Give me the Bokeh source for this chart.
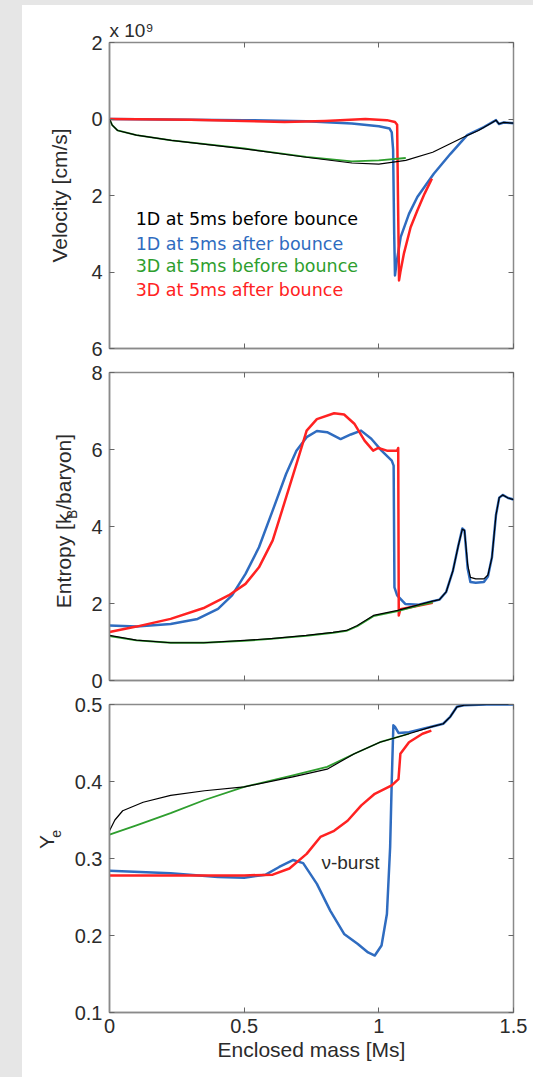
from bokeh.plotting import figure
from bokeh.layouts import column, row
from bokeh.models import (Range1d, FixedTicker, LinearAxis, Label, Title,
                          CustomJSTickFormatter, GlobalInlineStyleSheet)
from bokeh.embed import file_html
from bokeh.resources import INLINE

# ---------------- data (enclosed mass in Ms) ----------------
# Velocity [1e9 cm/s] (infall shown downward)
vel_1d_pre_m = [0, 0.01, 0.03, 0.1, 0.23, 0.5, 0.73, 0.9, 1.0, 1.1, 1.2, 1.316, 1.37, 1.415, 1.435, 1.446, 1.464, 1.5]
vel_1d_pre_v = [0, -0.16, -0.30, -0.42, -0.56, -0.78, -1.00, -1.15, -1.18, -1.08, -0.87, -0.47, -0.30, -0.12, -0.03, -0.13, -0.09, -0.11]

vel_1d_post_m = [0, 0.2, 0.5, 0.73, 0.9, 1.0, 1.04, 1.048, 1.053, 1.057, 1.06, 1.066, 1.081, 1.112, 1.143, 1.204, 1.266, 1.328, 1.39, 1.427, 1.435, 1.446, 1.464, 1.5]
vel_1d_post_v = [0, -0.01, -0.03, -0.06, -0.12, -0.19, -0.25, -0.35, -0.8, -3.0, -4.09, -3.75, -3.09, -2.48, -2.04, -1.43, -0.91, -0.42, -0.21, -0.06, -0.03, -0.13, -0.09, -0.11]

vel_3d_pre_m = [0, 0.01, 0.03, 0.1, 0.23, 0.5, 0.73, 0.9, 1.0, 1.1]
vel_3d_pre_v = [0, -0.16, -0.30, -0.42, -0.56, -0.77, -0.99, -1.11, -1.08, -1.02]

vel_3d_post_m = [0, 0.3, 0.5, 0.65, 0.8, 0.95, 1.03, 1.06, 1.068, 1.071, 1.075, 1.08, 1.093, 1.118, 1.143, 1.17, 1.197]
vel_3d_post_v = [0, -0.02, -0.05, -0.08, -0.05, 0.0, -0.03, -0.08, -0.15, -2.0, -4.22, -4.0, -3.52, -2.83, -2.39, -1.95, -1.56]

# Entropy [kB/baryon]
ent_1d_pre_m = [0, 0.1, 0.227, 0.35, 0.5, 0.6, 0.73, 0.83, 0.88, 0.92, 0.98, 1.07, 1.15, 1.2, 1.225, 1.25, 1.275, 1.295, 1.31, 1.318, 1.33, 1.34, 1.36, 1.39, 1.405, 1.42, 1.435, 1.447, 1.46, 1.48, 1.5]
ent_1d_pre_s = [1.17, 1.05, 0.98, 0.98, 1.04, 1.09, 1.17, 1.25, 1.30, 1.43, 1.69, 1.82, 1.97, 2.06, 2.10, 2.30, 2.85, 3.50, 3.93, 3.90, 3.00, 2.68, 2.64, 2.64, 2.74, 3.20, 4.30, 4.75, 4.82, 4.74, 4.70]

ent_1d_post_m = [0, 0.1, 0.227, 0.327, 0.403, 0.455, 0.505, 0.555, 0.606, 0.656, 0.694, 0.732, 0.770, 0.808, 0.858, 0.896, 0.934, 0.972, 1.01, 1.048, 1.055, 1.058, 1.068, 1.098, 1.148, 1.2, 1.225, 1.25, 1.275, 1.295, 1.31, 1.318, 1.33, 1.34, 1.36, 1.39, 1.405, 1.42, 1.435, 1.447, 1.46, 1.48, 1.5]
ent_1d_post_s = [1.43, 1.40, 1.47, 1.60, 1.86, 2.21, 2.77, 3.46, 4.42, 5.37, 5.97, 6.32, 6.48, 6.45, 6.27, 6.39, 6.49, 6.28, 5.97, 5.71, 5.58, 2.42, 2.21, 1.99, 1.97, 2.06, 2.10, 2.30, 2.85, 3.50, 3.95, 3.90, 2.90, 2.56, 2.54, 2.56, 2.70, 3.20, 4.30, 4.75, 4.82, 4.74, 4.70]

ent_3d_pre_m = [0, 0.1, 0.227, 0.35, 0.5, 0.6, 0.73, 0.83, 0.88, 0.92, 0.98, 1.07, 1.15, 1.2]
ent_3d_pre_s = [1.15, 1.04, 0.98, 0.98, 1.03, 1.08, 1.16, 1.24, 1.29, 1.41, 1.67, 1.80, 1.95, 2.03]

ent_3d_post_m = [0, 0.1, 0.227, 0.353, 0.442, 0.505, 0.555, 0.606, 0.656, 0.694, 0.732, 0.770, 0.834, 0.871, 0.909, 0.947, 0.979, 0.998, 1.03, 1.068, 1.072, 1.074, 1.08, 1.15, 1.2]
ent_3d_post_s = [1.26, 1.40, 1.60, 1.89, 2.21, 2.51, 2.94, 3.64, 4.76, 5.62, 6.49, 6.79, 6.94, 6.91, 6.67, 6.23, 5.97, 6.04, 5.97, 5.97, 6.04, 1.69, 1.85, 1.95, 2.02]

# Electron fraction Ye
ye_1d_pre_m = [0, 0.02, 0.049, 0.125, 0.227, 0.353, 0.5, 0.681, 0.808, 0.909, 1.004, 1.112, 1.195, 1.239, 1.265, 1.29, 1.316, 1.4, 1.5]
ye_1d_pre_y = [0.336, 0.350, 0.362, 0.373, 0.382, 0.388, 0.393, 0.406, 0.416, 0.436, 0.451, 0.462, 0.471, 0.475, 0.484, 0.497, 0.499, 0.5, 0.5]

ye_1d_post_m = [0, 0.227, 0.403, 0.5, 0.58, 0.63, 0.681, 0.719, 0.77, 0.82, 0.871, 0.922, 0.96, 0.985, 1.01, 1.03, 1.042, 1.048, 1.054, 1.06, 1.073, 1.112, 1.195, 1.239, 1.265, 1.29, 1.316, 1.4, 1.5]
ye_1d_post_y = [0.284, 0.281, 0.276, 0.275, 0.279, 0.289, 0.298, 0.294, 0.267, 0.232, 0.202, 0.189, 0.178, 0.174, 0.187, 0.228, 0.315, 0.401, 0.473, 0.471, 0.463, 0.464, 0.471, 0.475, 0.484, 0.497, 0.499, 0.5, 0.5]

ye_3d_pre_m = [0, 0.1, 0.227, 0.353, 0.5, 0.681, 0.808, 0.909, 1.004, 1.112]
ye_3d_pre_y = [0.331, 0.343, 0.359, 0.376, 0.393, 0.408, 0.419, 0.436, 0.451, 0.462]

ye_3d_post_m = [0, 0.227, 0.5, 0.606, 0.668, 0.732, 0.783, 0.834, 0.884, 0.935, 0.985, 1.048, 1.073, 1.08, 1.112, 1.162, 1.195]
ye_3d_post_y = [0.278, 0.278, 0.278, 0.279, 0.287, 0.306, 0.328, 0.336, 0.349, 0.369, 0.384, 0.395, 0.403, 0.436, 0.451, 0.462, 0.466]

series_names = ["1D at 5ms before bounce", "1D at 5ms after bounce",
                "3D at 5ms before bounce", "3D at 5ms after bounce"]
series_colors = ["#000000", "#2f6cc0", "#2e9e2e", "#ff2222"]
series_widths = [1.2, 2.5, 1.8, 2.5]

x_ticks = [0, 0.5, 1, 1.5]
vel_ticks = [-6, -4, -2, 0, 2]
ent_ticks = [0, 2, 4, 6, 8]
ye_ticks = [0.1, 0.2, 0.3, 0.4, 0.5]

TXT = "#2b2b2b"
FONT = "Liberation Sans"
BOX = "#8a8a8a"
ROT = 1.5707963


def make_fig(width, height, left, top, bottom, y_range, yticks, ycode, xlabels, ylabel=None):
    p = figure(width=width, height=height, x_range=Range1d(0, 1.5), y_range=y_range,
               output_backend="svg", toolbar_location=None,
               min_border_left=left, min_border_right=19,
               min_border_top=top, min_border_bottom=bottom,
               border_fill_color=None, background_fill_color="white",
               outline_line_color=BOX, outline_line_width=1.5)
    p.grid.visible = False
    for ax, ticks, code in ((p.below[0], x_ticks, "return String(tick);"),
                            (p.left[0], yticks, ycode)):
        ax.ticker = FixedTicker(ticks=ticks)
        ax.formatter = CustomJSTickFormatter(code=code)
        ax.axis_line_color = BOX
        ax.axis_line_width = 1.5
        ax.major_tick_in = 5
        ax.major_tick_out = 0
        ax.major_tick_line_color = "#666666"
        ax.minor_tick_line_color = None
        ax.major_label_text_font = FONT
        ax.major_label_text_font_size = "20px"
        ax.major_label_text_color = TXT
    p.left[0].major_label_standoff = 7
    p.below[0].major_label_standoff = 6
    if not xlabels:
        p.below[0].formatter = CustomJSTickFormatter(code="return '';")
        p.below[0].major_label_text_font_size = "0px"
        p.below[0].major_label_standoff = 0
    if ylabel:
        ax = p.left[0]
        ax.axis_label = ylabel
        ax.axis_label_text_font = FONT
        ax.axis_label_text_font_size = "21px"
        ax.axis_label_text_font_style = "normal"
        ax.axis_label_text_color = TXT
        ax.axis_label_standoff = 17
    # mirrored inner ticks on top and right
    for loc, ticks in (("above", x_ticks), ("right", yticks)):
        ax = LinearAxis(ticker=FixedTicker(ticks=ticks),
                        formatter=CustomJSTickFormatter(code="return '';"),
                        major_label_text_font_size="0px", major_label_standoff=0,
                        axis_line_color=None, major_tick_in=5, major_tick_out=0,
                        major_tick_line_color="#666666", minor_tick_line_color=None)
        p.add_layout(ax, loc)
    return p


def label_fig(width, height):
    q = figure(width=width, height=height, x_range=Range1d(0, width), y_range=Range1d(0, height),
               output_backend="svg", toolbar_location=None, min_border=0,
               border_fill_color=None, background_fill_color=None,
               outline_line_color=None)
    q.axis.visible = False
    q.grid.visible = False
    return q


def draw(p, ms, vs):
    for i in [1, 3, 2, 0]:
        p.line(ms[i], vs[i], line_color=series_colors[i], line_width=series_widths[i],
               line_join="round")


# ---------------- panel 1: velocity ----------------
p1 = make_fig(532, 360, 109, 42, 12, Range1d(-6, 2), vel_ticks,
              "return String(Math.abs(tick));", False, "Velocity [cm/s]")
draw(p1, [vel_1d_pre_m, vel_1d_post_m, vel_3d_pre_m, vel_3d_post_m],
         [vel_1d_pre_v, vel_1d_post_v, vel_3d_pre_v, vel_3d_post_v])
p1.add_layout(Title(text="x 10\u2079", align="left", text_font=FONT, text_font_size="19px",
                    text_font_style="normal", text_color=TXT, standoff=4), "above")
legend_y = [-2.627, -3.255, -3.856, -4.458]
for name, col, yy in zip(series_names, series_colors, legend_y):
    p1.add_layout(Label(x=0.097, y=yy, text=name, text_font="DejaVu Sans",
                        text_font_size="17.5px", text_color=col, text_baseline="middle"))

# ---------------- panel 2: entropy ----------------
l2 = label_fig(86, 332)
l2.add_layout(Label(x=63, y=78, text="Entropy [k", angle=ROT, text_font=FONT,
                    text_font_size="21px", text_color=TXT, text_baseline="middle", text_align="left"))
l2.add_layout(Label(x=71, y=174, text="B", angle=ROT, text_font=FONT,
                    text_font_size="14px", text_color=TXT, text_baseline="middle", text_align="left"))
l2.add_layout(Label(x=63, y=184, text="/baryon]", angle=ROT, text_font=FONT,
                    text_font_size="21px", text_color=TXT, text_baseline="middle", text_align="left"))
p2 = make_fig(446, 332, 23, 12, 12, Range1d(0, 8), ent_ticks, "return String(tick);", False)
draw(p2, [ent_1d_pre_m, ent_1d_post_m, ent_3d_pre_m, ent_3d_post_m],
         [ent_1d_pre_s, ent_1d_post_s, ent_3d_pre_s, ent_3d_post_s])

# ---------------- panel 3: Ye ----------------
l3 = label_fig(68, 384)
l3.add_layout(Label(x=46, y=204, text="Y", angle=ROT, text_font=FONT,
                    text_font_size="21px", text_color=TXT, text_baseline="middle", text_align="left"))
l3.add_layout(Label(x=55, y=218, text="e", angle=ROT, text_font=FONT,
                    text_font_size="14px", text_color=TXT, text_baseline="middle", text_align="left"))
p3 = make_fig(464, 384, 41, 12, 64, Range1d(0.1, 0.5), ye_ticks, "return String(tick);", True)
draw(p3, [ye_1d_pre_m, ye_1d_post_m, ye_3d_pre_m, ye_3d_post_m],
         [ye_1d_pre_y, ye_1d_post_y, ye_3d_pre_y, ye_3d_post_y])
xa = p3.below[0]
xa.axis_label = "Enclosed mass [Ms]"
xa.axis_label_text_font = FONT
xa.axis_label_text_font_size = "21px"
xa.axis_label_text_font_style = "normal"
xa.axis_label_text_color = TXT
xa.axis_label_standoff = 2
p3.add_layout(Label(x=0.787, y=0.2948, text="\u03bd-burst", text_font=FONT,
                    text_font_size="19px", text_color=TXT, text_baseline="middle"))

css = ("body { background: linear-gradient(#e6e6e6, #e6e6e6) left top / 22px 100% no-repeat, "
       "linear-gradient(#e6e6e6, #e6e6e6) left top / 100% 5px no-repeat, #ffffff; }")
layout = column(p1, row(l2, p2, spacing=0), row(l3, p3, spacing=0), spacing=0,
                stylesheets=[GlobalInlineStyleSheet(css=css)])

open("out.html", "w").write(file_html(layout, INLINE))
